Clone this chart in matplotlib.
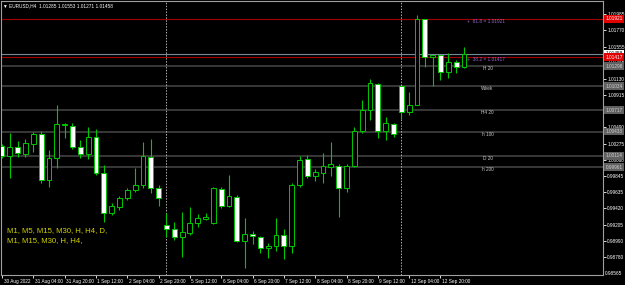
import matplotlib
matplotlib.use("Agg")
import matplotlib.pyplot as plt
import matplotlib.transforms as mtransforms

plt.rcParams['font.family'] = ['Liberation Sans', 'DejaVu Sans']

# EURUSD H4 bars, 30 Aug 12:00 .. 13 Sep 08:00
opens = [1.00242, 1.00110, 1.00225, 1.00132, 1.00268, 1.00400, 0.99793, 1.00080, 1.00523, 1.00510,
         1.00225, 1.00132, 1.00357, 0.99881, 0.99361, 0.99432, 0.99559, 0.99657, 0.99723, 1.00093,
         0.99683, 0.99199, 0.99150, 0.99044, 0.99097, 0.99229, 0.99282, 0.99221, 0.99678, 0.99454,
         0.99573, 0.98991, 0.99080, 0.99036, 0.98895, 0.98921, 0.99063, 0.98921, 0.99723, 1.00066,
         0.99850, 0.99885, 0.99969, 0.99982, 0.99683, 0.99982, 1.00440, 1.00717, 1.01061, 1.00440,
         1.00533, 1.01034, 1.00695, 1.00779, 1.01915, 1.01413, 1.01440, 1.01219, 1.01347, 1.01285]
highs = [1.00268, 1.00410, 1.00312, 1.00330, 1.00431, 1.00444, 1.00189, 1.00783, 1.00542, 1.00542,
         1.00321, 1.00489, 1.00462, 0.99991, 0.99485, 0.99582, 0.99683, 0.99948, 1.00291, 1.00334,
         0.99727, 0.99353, 0.99234, 0.99366, 0.99432, 0.99344, 0.99353, 0.99697, 0.99697, 0.99859,
         0.99595, 0.99287, 0.99116, 0.99057, 0.98965, 0.99295, 0.99142, 0.99757, 1.00110, 1.00123,
         0.99942, 1.00146, 1.00299, 1.00008, 1.00000, 1.00497, 1.00849, 1.01127, 1.01070, 1.00629,
         1.00542, 1.01034, 1.00955, 1.01972, 1.01915, 1.01440, 1.01440, 1.01466, 1.01374, 1.01553]
lows = [1.00084, 0.99815, 1.00093, 1.00101, 1.00159, 0.99749, 0.99705, 0.99948, 1.00352, 1.00198,
        1.00087, 1.00070, 0.99855, 0.99242, 0.99331, 0.99397, 0.99529, 0.99631, 0.99683, 0.99617,
        0.99450, 0.99044, 0.99001, 0.98772, 0.99063, 0.99168, 0.99265, 0.99212, 0.99419, 0.99432,
        0.98978, 0.98627, 0.98948, 0.98833, 0.98759, 0.98859, 0.98746, 0.98833, 0.99705, 0.99823,
        0.99780, 0.99757, 0.99846, 0.99308, 0.99639, 0.99965, 1.00414, 1.00585, 1.00344, 1.00321,
        1.00365, 1.00595, 1.00651, 1.00779, 1.01289, 1.01034, 1.01113, 1.01136, 1.01202, 1.01271]
closes = [1.00110, 1.00233, 1.00146, 1.00278, 1.00400, 0.99793, 1.00080, 1.00533, 1.00533, 1.00233,
          1.00136, 1.00365, 0.99881, 0.99361, 0.99450, 0.99559, 0.99661, 0.99723, 1.00110, 0.99691,
          0.99559, 0.99150, 0.99044, 0.99102, 0.99229, 0.99287, 0.99304, 0.99683, 0.99454, 0.99578,
          0.98991, 0.99080, 0.99057, 0.98895, 0.98921, 0.99063, 0.98921, 0.99727, 1.00057, 0.99846,
          0.99895, 0.99974, 1.00000, 0.99683, 0.99982, 1.00440, 1.00717, 1.01070, 1.00440, 1.00542,
          1.00400, 1.00695, 1.00779, 1.01915, 1.01413, 1.01440, 1.01219, 1.01351, 1.01285, 1.01458]

time_labels = ["30 Aug 2022", "31 Aug 04:00", "31 Aug 20:00", "1 Sep 12:00", "2 Sep 04:00",
               "2 Sep 20:00", "5 Sep 12:00", "6 Sep 04:00", "6 Sep 20:00", "7 Sep 12:00",
               "8 Sep 04:00", "8 Sep 20:00", "9 Sep 12:00", "12 Sep 04:00", "12 Sep 20:00"]
week_starts = [21, 51]  # bar index of 5 Sep 00:00 and 12 Sep 00:00

price_ticks = [1.01985, 1.01770, 1.01555, 1.01345, 1.01130, 1.00915, 1.00700, 1.00490, 1.00275,
               1.00060, 0.99845, 0.99635, 0.99420, 0.99205, 0.98990, 0.98780, 0.98565]

level_names = ["H 20", "Week", "H4 20", "h 100", "D 20", "h 200"]
level_prices = [1.01298, 1.01034, 1.00717, 1.00433, 1.00114, 0.99961]

fib_names = ["61.8", "38.2"]
fib_prices = [1.01921, 1.01417]
bid = 1.01458

symbol = "EURUSD,H4"
tf_lines = ["M1, M5, M15, M30, H, H4, D,", "M1, M15, M30, H, H4,"]

GREEN = '#00c800'

fig = plt.figure(figsize=(6.25, 2.85), dpi=100, facecolor='black')
ax = fig.add_axes([1 / 625, 1 - 275 / 285, 602 / 625, 274 / 285])
ax.set_facecolor('black')

n = len(opens)
xs = list(range(n))

# indicator levels
for p in level_prices:
    ax.axhline(p, color='#3c3c3c', lw=1.3, zorder=1)
for name, p in zip(level_names, level_prices):
    ax.text(62, p, name, color='#c8c8c8', fontsize=3.4, ha='center', va='top', zorder=4)

# fibo levels and bid line
for p in fib_prices:
    ax.axhline(p, color='#a00000', lw=0.8, zorder=1)
ax.axhline(bid, color='#778899', lw=0.8, zorder=1)
for name, p in zip(fib_names, fib_prices):
    ax.text(59.4, p, "+  %s = %.5f" % (name, p), color='#9966cc', fontsize=3.4,
            ha='left', va='top', zorder=4)

# week separators
for w in week_starts:
    ax.axvline(w, color='#b0b0b0', lw=0.7, ls=(0, (1.5, 1.5)), zorder=1)

# candles
ax.vlines(xs, lows, highs, color=GREEN, lw=0.8, zorder=2)
bodies = [abs(c - o) for o, c in zip(opens, closes)]
bottoms = [min(o, c) for o, c in zip(opens, closes)]
fills = ['black' if c >= o else 'white' for o, c in zip(opens, closes)]
ax.bar(xs, bodies, bottom=bottoms, width=0.62, color=fills, edgecolor=GREEN, lw=0.7, zorder=3)

ax.set_xlim(-1 / 7.83, 601 / 7.83)
ax.set_ylim(0.98539, 1.02157)

for s in ax.spines.values():
    s.set_color('#a0a0a0')
    s.set_linewidth(0.8)

# price scale
ax.yaxis.tick_right()
ax.set_yticks(price_ticks[:-1])
ax.set_yticklabels(["%.5f" % p for p in price_ticks[:-1]])
ax.tick_params(axis='y', colors='white', length=2, width=0.6, pad=1, labelsize=3.4)
ax.text(1.003, 0.006, "%.5f" % price_ticks[-1], transform=ax.transAxes, color='white',
        fontsize=3.4, ha='left', va='center')

# time scale
ax.set_xticks(xs[::4])
ax.set_xticklabels(time_labels)
ax.tick_params(axis='x', colors='white', length=2.5, width=0.6, pad=0.3, labelsize=3.4)
offset = mtransforms.ScaledTranslation(1.5 / 100, 0, fig.dpi_scale_trans)
for lbl in ax.get_xticklabels():
    lbl.set_ha('left')
    lbl.set_transform(lbl.get_transform() + offset)

# boxed price labels on the scale
ytr = ax.get_yaxis_transform()
for p in level_prices:
    ax.text(1.004, p, "%.5f" % p, transform=ytr, color='#d0d0d0', fontsize=3.4, ha='left',
            va='center', zorder=5, bbox=dict(boxstyle='square,pad=0.3', fc='#606060', ec='none'))
ax.text(1.004, bid, "%.5f" % bid, transform=ytr, color='black', fontsize=3.4, ha='left',
        va='center', zorder=6, bbox=dict(boxstyle='square,pad=0.3', fc='white', ec='none'))
for p in fib_prices:
    ax.text(1.004, p, "%.5f" % p, transform=ytr, color='white', fontsize=3.4, ha='left',
            va='center', zorder=7, bbox=dict(boxstyle='square,pad=0.3', fc='#e00000', ec='none'))

# header
ax.text(0.004, 0.983, "\u25bc " + symbol + "  " + " ".join("%.5f" % v for v in
        (opens[-1], highs[-1], lows[-1], closes[-1])), transform=ax.transAxes,
        color='white', fontsize=3.4, ha='left', va='center')

# timeframe labels
for k, t in enumerate(tf_lines):
    ax.text(0.0095, 0.164 - 0.039 * k, t, transform=ax.transAxes, color='#d2d200',
            fontsize=5.6, ha='left', va='center')

fig.savefig("out.png", dpi=100, facecolor='black')
